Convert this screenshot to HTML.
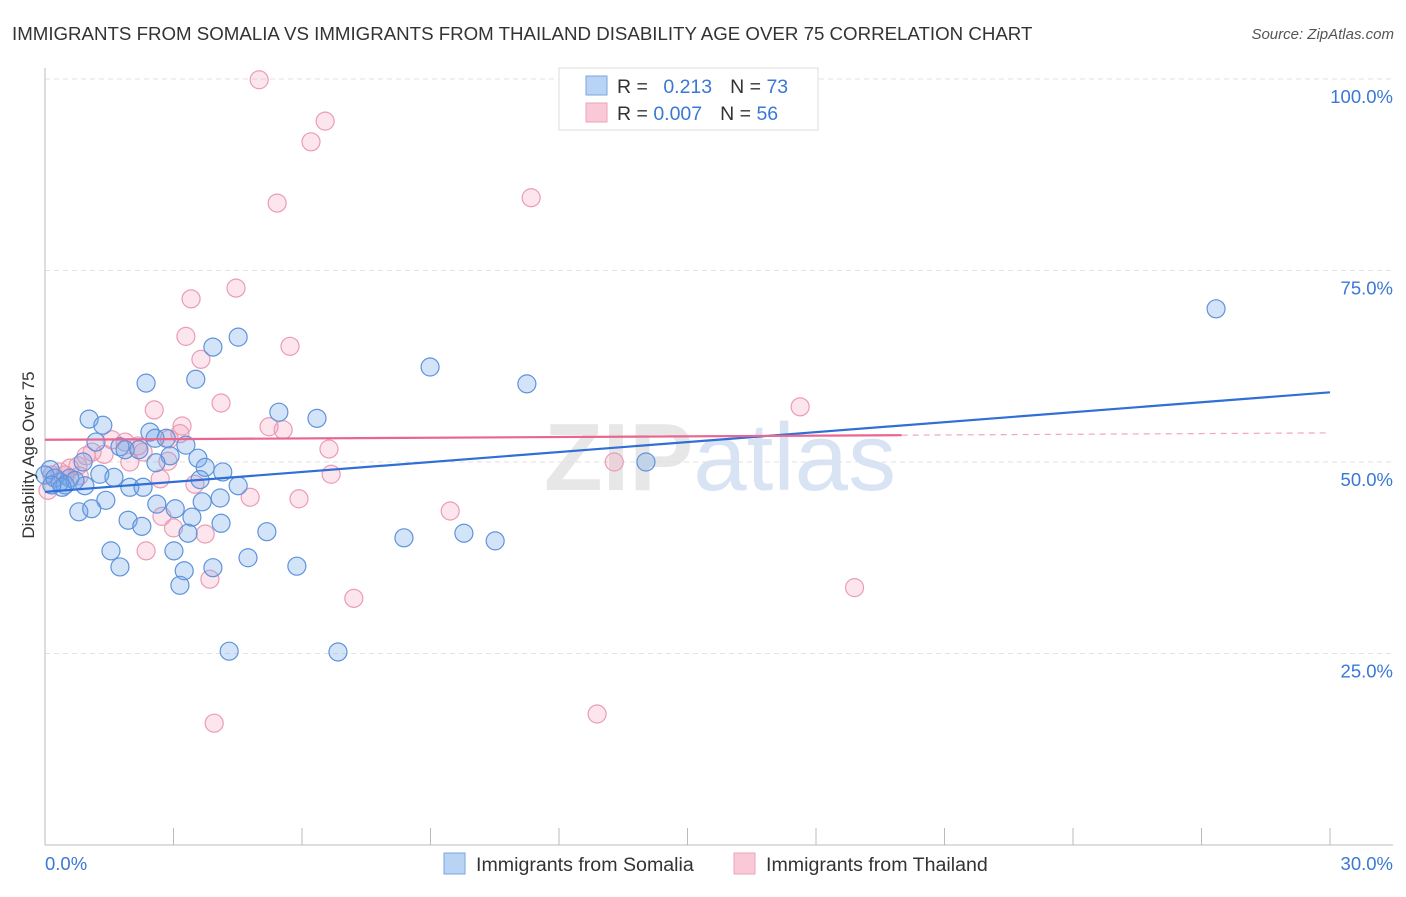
<!DOCTYPE html>
<html><head><meta charset="utf-8"><style>
body{margin:0;background:#fff;font-family:"Liberation Sans",sans-serif;}
svg text{font-family:"Liberation Sans",sans-serif;}
</style></head><body>
<svg id="chart" width="1406" height="892" xmlns="http://www.w3.org/2000/svg">
<text x="12" y="40" font-size="18.7" fill="#333">IMMIGRANTS FROM SOMALIA VS IMMIGRANTS FROM THAILAND DISABILITY AGE OVER 75 CORRELATION CHART</text>
<text x="1394" y="39" font-size="15" fill="#555" text-anchor="end" font-style="italic">Source: ZipAtlas.com</text>
<text x="720" y="490" font-size="96" text-anchor="middle" fill="#ddd" font-family="Liberation Serif" font-weight="bold" opacity="0.7">ZIP<tspan fill="#c8d8ef" font-family="Liberation Sans" font-weight="normal">atlas</tspan></text>
<g id="grid"></g>
<g id="marks"></g>
<g id="lines"></g>
<text transform="translate(34,455) rotate(-90)" font-size="17" fill="#333" text-anchor="middle">Disability Age Over 75</text>
<g>
<rect x="559" y="68" width="259" height="62" fill="#fff" stroke="#ddd"/>
<rect x="586" y="76" width="21" height="19" fill="#b9d3f5" stroke="#7aa6e0"/>
<rect x="586" y="103" width="21" height="19" fill="#f9c9d8" stroke="#eba3bb"/>
<text x="617" y="93" font-size="19.5" fill="#333">R = <tspan fill="#3a78d4" dx="10">0.213</tspan><tspan dx="18" fill="#333">N = </tspan><tspan fill="#3a78d4">73</tspan></text>
<text x="617" y="120" font-size="19.5" fill="#333">R = <tspan fill="#3a78d4">0.007</tspan><tspan dx="18" fill="#333">N = </tspan><tspan fill="#3a78d4">56</tspan></text>
</g>
<g>
<rect x="444" y="853" width="21" height="21" fill="#b9d3f5" stroke="#7aa6e0"/>
<text x="476" y="871" font-size="19.6" fill="#333">Immigrants from Somalia</text>
<rect x="734" y="853" width="21" height="21" fill="#f9c9d8" stroke="#eba3bb"/>
<text x="766" y="871" font-size="19.6" fill="#333">Immigrants from Thailand</text>
</g>
</svg>
<script>
const somaliaX=[27.34,8.99,11.25,4.51,3.92,3.52,2.36,1.03,1.35,5.46,6.35,2.45,2.57,1.19,1.75,1.87,2.92,3.57,3.29,2.59,3.74,4.15,14.03,0.89,1.28,1.61,0.58,0.35,0.12,3.62,4.51,1.98,2.29,0.93,1.42,2.61,4.09,3.67,0.79,1.09,3.04,3.43,1.94,2.26,4.11,3.34,5.18,8.38,9.78,10.51,1.54,3.01,4.74,1.75,3.25,3.92,5.88,3.15,4.30,6.84,0,0.23,0.47,0.7,0.4,0.16,2.83,2.19];
const somaliaY=[70.0,62.4,60.2,66.3,65.0,60.8,60.3,55.6,54.8,56.5,55.7,53.9,53.1,52.6,52.0,51.6,50.8,50.5,52.2,49.9,49.3,48.7,50.0,50.0,48.4,48.0,47.9,47.4,49.0,47.7,46.9,46.7,46.7,46.9,45.0,44.5,45.3,44.8,43.5,43.9,43.9,42.8,42.4,41.6,42.0,40.7,40.9,40.1,40.7,39.7,38.4,38.4,37.5,36.3,35.8,36.2,36.4,33.9,25.3,25.2,48.3,47.9,47.0,47.6,46.7,47.0,53.1,51.6];
const thailandX=[5.0,6.54,6.21,11.35,5.42,4.46,3.41,3.29,5.72,3.64,4.11,17.63,2.55,3.2,5.23,5.56,3.15,1.56,1.87,2.17,2.29,1.38,1.1,0.96,6.63,1.98,13.29,2.87,0.77,6.68,2.69,3.5,0.58,0.35,0.16,0.07,4.79,5.93,9.46,2.73,3.0,3.74,2.36,3.85,18.9,7.21,12.89,3.95,0.47,0.8,2.9];
const thailandY=[99.9,94.5,91.8,84.5,83.8,72.7,71.3,66.4,65.1,63.4,57.7,57.2,56.8,54.7,54.6,54.2,53.7,52.9,52.6,52.1,51.3,51.0,51.3,50.8,51.7,50.0,50.0,50.1,49.5,48.4,47.8,47.1,49.2,48.7,48.3,46.3,45.4,45.2,43.6,42.9,41.4,40.6,38.4,34.7,33.6,32.2,17.1,15.9,48.3,48.2,53.0];
const somaliaTrend=[46.1,59.1];
const thailandTrend=[52.9,53.8];
const yTicks=[25,50,75,100];
const yTickLabels=["25.0%","50.0%","75.0%","100.0%"];
const xTicks=[0,3,6,9,12,15,18,21,24,27,30];

const NS="http://www.w3.org/2000/svg";
const X0=45,X1=1330,Y0=845,Y100=79;
function sx(v){return X0+(v/30)*(X1-X0);}
function sy(v){return Y0-(v/100)*(Y0-Y100);}
function mk(tag,attrs,parent){const e=document.createElementNS(NS,tag);for(const k in attrs)e.setAttribute(k,attrs[k]);parent.appendChild(e);return e;}
const grid=document.getElementById('grid'),marks=document.getElementById('marks'),lines=document.getElementById('lines');
let e;
e=mk('line',{x1:X0,y1:sy(100),x2:1393,y2:sy(100),stroke:'#ddd','stroke-dasharray':'5,4'},grid);


yTicks.forEach((t,i)=>{
  const g=mk('line',{x1:X0,y1:sy(t),x2:1393,y2:sy(t),stroke:'#e2e2e2','stroke-dasharray':'5,4'},grid);
  
  
  const tx=mk('text',{x:1393,y:sy(t)+24,'font-size':18.5,fill:'#3a78d4','text-anchor':'end'},grid);
  tx.textContent=yTickLabels[i];
  
  
});
e=mk('line',{x1:X0,y1:68,x2:X0,y2:Y0,stroke:'#bbb'},grid);


e=mk('line',{x1:X0,y1:Y0,x2:1393,y2:Y0,stroke:'#bbb'},grid);


xTicks.forEach(t=>{
  const l=mk('line',{x1:sx(t),y1:828,x2:sx(t),y2:Y0,stroke:'#bbb'},grid);
  
  
});
e=mk('text',{x:45,y:870,'font-size':18.5,fill:'#3a78d4'},grid);e.textContent='0.0%';


e=mk('text',{x:1393,y:870,'font-size':18.5,fill:'#3a78d4','text-anchor':'end'},grid);e.textContent='30.0%';


thailandX.forEach((v,i)=>{
  const c=mk('circle',{cx:sx(v),cy:sy(thailandY[i]),r:9,fill:'rgba(244,150,180,0.25)',stroke:'#eb9cb5','stroke-width':1.2},marks);
  
  
});
somaliaX.forEach((v,i)=>{
  const c=mk('circle',{cx:sx(v),cy:sy(somaliaY[i]),r:9,fill:'rgba(110,165,235,0.3)',stroke:'#5f93db','stroke-width':1.2},marks);
  
  
});
e=mk('line',{x1:sx(0),y1:sy(somaliaTrend[0]),x2:sx(30),y2:sy(somaliaTrend[1]),stroke:'#2f6fd6','stroke-width':2.2},lines);


const tAt=x=>thailandTrend[0]+(thailandTrend[1]-thailandTrend[0])*x/30;
e=mk('line',{x1:sx(0),y1:sy(tAt(0)),x2:sx(20),y2:sy(tAt(20)),stroke:'#e8668f','stroke-width':2.2},lines);


e=mk('line',{x1:sx(20),y1:sy(tAt(20)),x2:sx(30),y2:sy(tAt(30)),stroke:'#f0a6bd','stroke-width':1.2,'stroke-dasharray':'6,5'},lines);


</script>
</body></html>
